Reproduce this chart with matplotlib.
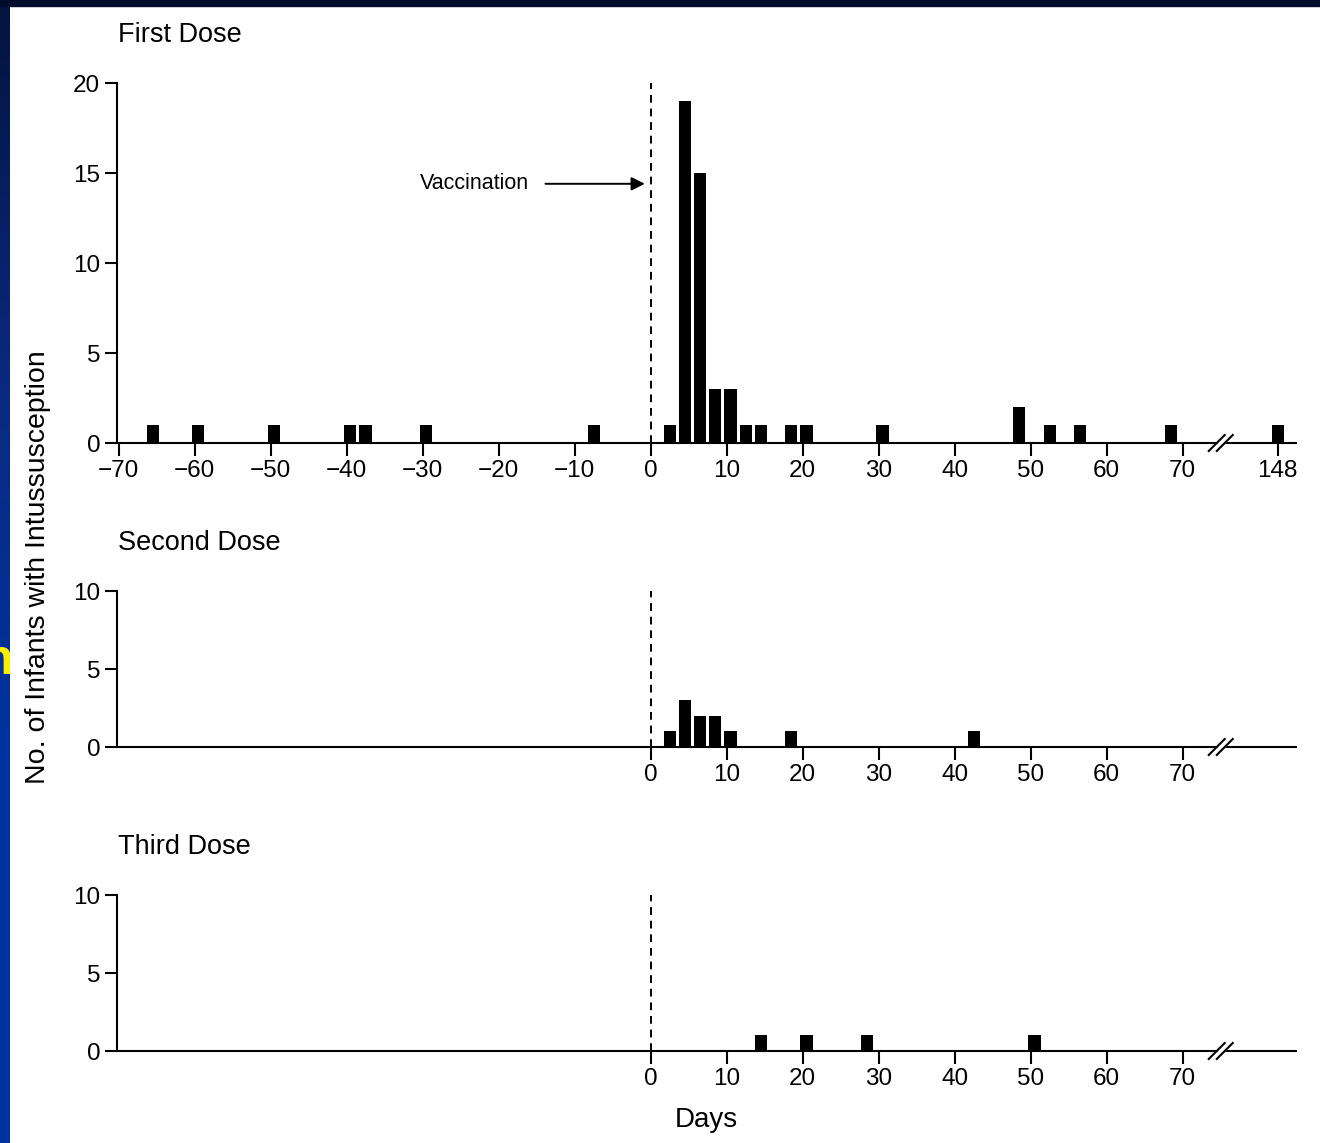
import numpy as np
import matplotlib.pyplot as plt
from matplotlib.lines import Line2D
from matplotlib.patches import Rectangle
from matplotlib.colors import LinearSegmentedColormap

plt.rcParams['font.family'] = ['Liberation Sans', 'DejaVu Sans']

# data (day of onset after vaccination, number of infants)
first_days = [-65.5, -59.5, -49.5, -39.5, -37.5, -29.5, -7.5, 2.5, 4.5, 6.5, 8.5,
              10.5, 12.5, 14.5, 18.5, 20.5, 30.5, 48.5, 52.5, 56.5, 68.5, 148]
first_counts = [1, 1, 1, 1, 1, 1, 1, 1, 19, 15, 3, 3, 1, 1, 1, 1, 1, 2, 1, 1, 1, 1]
second_days = [2.5, 4.5, 6.5, 8.5, 10.5, 18.5, 42.5]
second_counts = [1, 3, 2, 2, 1, 1, 1]
third_days = [14.5, 20.5, 28.5, 50.5]
third_counts = [1, 1, 1, 1]

first_xticks = [-70, -60, -50, -40, -30, -20, -10, 0, 10, 20, 30, 40, 50, 60, 70, 148]
lower_xticks = [0, 10, 20, 30, 40, 50, 60, 70]
titles = ['First Dose', 'Second Dose', 'Third Dose']

# broken axis: everything past the break is drawn at this position
BREAK_AT = 75
FAR_POS = 82.5


def pos(d):
    return FAR_POS if d > BREAK_AT else d


def lab(t):
    return str(t).replace('-', '\u2212')


W, H = 1320, 1143
fig = plt.figure(figsize=(W / 100, H / 100), dpi=100)
fig.patch.set_facecolor('white')

left = 117 / W
width = (1296 - 117) / W
panels = [(443, 83, 20), (747, 591, 10), (1051, 895, 10)]
data = [(first_days, first_counts, first_xticks),
        (second_days, second_counts, lower_xticks),
        (third_days, third_counts, lower_xticks)]

axes = []
for (ybot, ytop, ymax), (days, counts, xt), title in zip(panels, data, titles):
    ax = fig.add_axes([left, 1 - ybot / H, width, (ybot - ytop) / H])
    ax.bar([pos(d) for d in days], counts, width=1.6, color='black')
    ax.set_xlim(-70.2, 84.9)
    ax.set_ylim(0, ymax)
    ax.set_yticks(np.arange(0, ymax + 1, 5))
    ax.set_xticks([pos(t) for t in xt])
    ax.set_xticklabels([lab(t) for t in xt])
    for s in ['top', 'right']:
        ax.spines[s].set_visible(False)
    for s in ['left', 'bottom']:
        ax.spines[s].set_linewidth(1.5)
    ax.tick_params(direction='out', length=9, width=1.5, labelsize=17.5, pad=3)
    ax.axvline(0, color='black', lw=1.4, ls=(0, (4, 3)), zorder=0)
    ax.patch.set_alpha(0)
    fig.text(118 / W, 1 - (ytop - 48) / H, title, fontsize=19.5, ha='left', va='center')
    axes.append(ax)

# vaccination arrow
axes[0].text(-16.0, 14.4, 'Vaccination', fontsize=15.5, va='center', ha='right')
axes[0].annotate('', xy=(-0.4, 14.4), xytext=(-14.2, 14.4),
                 arrowprops=dict(arrowstyle='-|>', color='black', lw=1.4,
                                 mutation_scale=20))

# axis break marks
inv = fig.transFigure.inverted()
for ax in axes:
    x0, y0 = ax.transData.transform((BREAK_AT, 0))
    r0 = inv.transform((x0 - 3, y0 - 2))
    r1 = inv.transform((x0 + 3, y0 + 2))
    fig.patches.append(Rectangle(r0, r1[0] - r0[0], r1[1] - r0[1], color='white',
                                 transform=fig.transFigure, zorder=3))
    for dx in (-4, 4):
        p = inv.transform([(x0 + dx - 8, y0 - 8), (x0 + dx + 8, y0 + 8)])
        fig.lines.append(Line2D(p[:, 0], p[:, 1], color='black', lw=1.5,
                                transform=fig.transFigure, zorder=4))

fig.text(38 / W, 1 - 567 / H, 'No. of Infants with Intussusception', rotation=90,
         fontsize=20.5, ha='center', va='center')
fig.text(706 / W, 1 - 1120 / H, 'Days', fontsize=20, ha='center', va='center')

# slide frame: dark band on top, blue band at left
fig.patches.append(Rectangle((0, 1 - 6 / H), 1, 6 / H, color='#000d2a',
                             transform=fig.transFigure, zorder=5))
strip = fig.add_axes([0, 0, 10 / W, 1 - 6 / H])
grad = np.linspace(0, 1, 256).reshape(-1, 1)
cmap = LinearSegmentedColormap.from_list('slide', ['#0033a0', '#0033a0', '#0a2a80', '#04143f'])
strip.imshow(grad, aspect='auto', cmap=cmap, origin='lower', extent=[0, 1, 0, 1])
strip.text(1.35, 1 - 658 / H, 'n', fontsize=36, fontweight='bold', color='#f8f000',
           ha='right', va='center', transform=strip.transAxes, clip_on=True)
strip.set_axis_off()

fig.savefig('out.png', dpi=100, facecolor='white')
